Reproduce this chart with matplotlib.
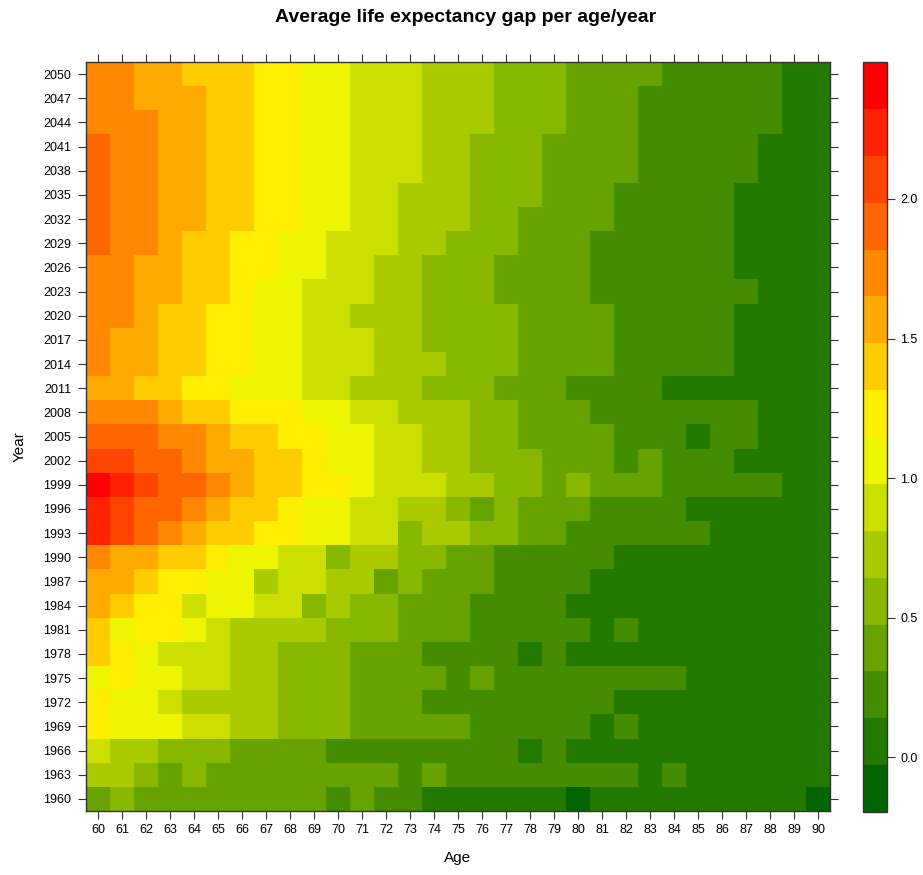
import numpy as np
import matplotlib
matplotlib.use("Agg")
import matplotlib.pyplot as plt
from matplotlib.colors import LinearSegmentedColormap, BoundaryNorm

plt.rcParams['font.family'] = ['Liberation Sans', 'DejaVu Sans']

ages = np.arange(60, 91)
years = np.arange(1960, 2051, 3)

# colour key: 16 equal bins between these limits
key_lo = -0.197
key_hi = 2.491
key_ticks = [0.0, 0.5, 1.0, 1.5, 2.0]

# bin for every cell (0 = darkest green ... 15 = red)
# rows from 2050 (top) down to 1960 (bottom), columns age 60 ... 90
bins = [
    [11, 11, 10, 10, 9, 9, 9, 8, 8, 7, 7, 6, 6, 6, 5, 5, 5, 4, 4, 4, 3, 3, 3, 3, 2, 2, 2, 2, 2, 1, 1],  # 2050
    [11, 11, 10, 10, 10, 9, 9, 8, 8, 7, 7, 6, 6, 6, 5, 5, 5, 4, 4, 4, 3, 3, 3, 2, 2, 2, 2, 2, 2, 1, 1],  # 2047
    [11, 11, 11, 10, 10, 9, 9, 8, 8, 7, 7, 6, 6, 6, 5, 5, 5, 4, 4, 4, 3, 3, 3, 2, 2, 2, 2, 2, 2, 1, 1],  # 2044
    [12, 11, 11, 10, 10, 9, 9, 8, 8, 7, 7, 6, 6, 6, 5, 5, 4, 4, 4, 3, 3, 3, 3, 2, 2, 2, 2, 2, 1, 1, 1],  # 2041
    [12, 11, 11, 10, 10, 9, 9, 8, 8, 7, 7, 6, 6, 6, 5, 5, 4, 4, 4, 3, 3, 3, 3, 2, 2, 2, 2, 2, 1, 1, 1],  # 2038
    [12, 11, 11, 10, 10, 9, 9, 8, 8, 7, 7, 6, 6, 5, 5, 5, 4, 4, 4, 3, 3, 3, 2, 2, 2, 2, 2, 1, 1, 1, 1],  # 2035
    [12, 11, 11, 10, 10, 9, 9, 8, 8, 7, 7, 6, 6, 5, 5, 5, 4, 4, 3, 3, 3, 3, 2, 2, 2, 2, 2, 1, 1, 1, 1],  # 2032
    [12, 11, 11, 10, 9, 9, 8, 8, 7, 7, 6, 6, 6, 5, 5, 4, 4, 4, 3, 3, 3, 2, 2, 2, 2, 2, 2, 1, 1, 1, 1],  # 2029
    [11, 11, 10, 10, 9, 9, 8, 8, 7, 7, 6, 6, 5, 5, 4, 4, 4, 3, 3, 3, 3, 2, 2, 2, 2, 2, 2, 1, 1, 1, 1],  # 2026
    [11, 11, 10, 10, 9, 9, 8, 7, 7, 6, 6, 6, 5, 5, 4, 4, 4, 3, 3, 3, 3, 2, 2, 2, 2, 2, 2, 2, 1, 1, 1],  # 2023
    [11, 11, 10, 9, 9, 8, 8, 7, 7, 6, 6, 5, 5, 5, 4, 4, 4, 4, 3, 3, 3, 3, 2, 2, 2, 2, 2, 1, 1, 1, 1],  # 2020
    [11, 10, 10, 9, 9, 8, 8, 7, 7, 6, 6, 6, 5, 5, 4, 4, 4, 4, 3, 3, 3, 3, 2, 2, 2, 2, 2, 1, 1, 1, 1],  # 2017
    [11, 10, 10, 9, 9, 8, 8, 7, 7, 6, 6, 6, 5, 5, 5, 4, 4, 4, 3, 3, 3, 3, 2, 2, 2, 2, 2, 1, 1, 1, 1],  # 2014
    [10, 10, 9, 9, 8, 8, 7, 7, 7, 6, 6, 5, 5, 5, 4, 4, 4, 3, 3, 3, 2, 2, 2, 2, 1, 1, 1, 1, 1, 1, 1],  # 2011
    [11, 11, 11, 10, 9, 9, 8, 8, 8, 7, 7, 6, 6, 5, 5, 5, 4, 4, 3, 3, 3, 2, 2, 2, 2, 2, 2, 2, 1, 1, 1],  # 2008
    [12, 12, 12, 11, 11, 10, 9, 9, 8, 8, 7, 7, 6, 6, 5, 5, 4, 4, 3, 3, 3, 3, 2, 2, 2, 1, 2, 2, 1, 1, 1],  # 2005
    [13, 13, 12, 12, 11, 10, 10, 9, 9, 8, 7, 7, 6, 6, 5, 5, 4, 4, 4, 3, 3, 3, 2, 3, 2, 2, 2, 1, 1, 1, 1],  # 2002
    [15, 14, 13, 12, 12, 11, 10, 9, 9, 8, 8, 7, 6, 6, 6, 5, 5, 4, 4, 3, 4, 3, 3, 3, 2, 2, 2, 2, 2, 1, 1],  # 1999
    [14, 13, 12, 12, 11, 10, 9, 9, 8, 7, 7, 6, 6, 5, 5, 4, 3, 4, 3, 3, 3, 2, 2, 2, 2, 1, 1, 1, 1, 1, 1],  # 1996
    [14, 13, 12, 11, 10, 9, 9, 8, 8, 7, 7, 6, 6, 4, 5, 5, 4, 4, 3, 3, 2, 2, 2, 2, 2, 2, 1, 1, 1, 1, 1],  # 1993
    [11, 10, 10, 9, 9, 8, 7, 7, 6, 6, 4, 5, 5, 4, 4, 3, 3, 2, 2, 2, 2, 2, 1, 1, 1, 1, 1, 1, 1, 1, 1],  # 1990
    [10, 10, 9, 8, 8, 7, 7, 5, 6, 6, 5, 5, 3, 4, 3, 3, 3, 2, 2, 2, 2, 1, 1, 1, 1, 1, 1, 1, 1, 1, 1],  # 1987
    [10, 9, 8, 8, 6, 7, 7, 6, 6, 4, 5, 4, 4, 3, 3, 3, 2, 2, 2, 2, 1, 1, 1, 1, 1, 1, 1, 1, 1, 1, 1],  # 1984
    [9, 7, 8, 8, 7, 6, 5, 5, 5, 5, 4, 4, 4, 3, 3, 3, 2, 2, 2, 2, 2, 1, 2, 1, 1, 1, 1, 1, 1, 1, 1],  # 1981
    [9, 8, 7, 6, 6, 6, 5, 5, 4, 4, 4, 3, 3, 3, 2, 2, 2, 2, 1, 2, 1, 1, 1, 1, 1, 1, 1, 1, 1, 1, 1],  # 1978
    [7, 8, 7, 7, 6, 6, 5, 5, 4, 4, 4, 3, 3, 3, 3, 2, 3, 2, 2, 2, 2, 2, 2, 2, 2, 1, 1, 1, 1, 1, 1],  # 1975
    [8, 7, 7, 6, 5, 5, 5, 5, 4, 4, 4, 3, 3, 3, 2, 2, 2, 2, 2, 2, 2, 2, 1, 1, 1, 1, 1, 1, 1, 1, 1],  # 1972
    [8, 7, 7, 7, 6, 6, 5, 5, 4, 4, 4, 3, 3, 3, 3, 3, 2, 2, 2, 2, 2, 1, 2, 1, 1, 1, 1, 1, 1, 1, 1],  # 1969
    [6, 5, 5, 4, 4, 4, 3, 3, 3, 3, 2, 2, 2, 2, 2, 2, 2, 2, 1, 2, 1, 1, 1, 1, 1, 1, 1, 1, 1, 1, 1],  # 1966
    [5, 5, 4, 3, 4, 3, 3, 3, 3, 3, 3, 3, 3, 2, 3, 2, 2, 2, 2, 2, 2, 2, 2, 1, 2, 1, 1, 1, 1, 1, 1],  # 1963
    [3, 4, 3, 3, 3, 3, 3, 3, 3, 3, 2, 3, 2, 2, 1, 1, 1, 1, 1, 1, 0, 1, 1, 1, 1, 1, 1, 1, 1, 1, 0],  # 1960
]

nlev = 16
edges = np.linspace(key_lo, key_hi, nlev + 1)
mids = (edges[:-1] + edges[1:]) / 2
gap = mids[np.array(bins)[::-1]]  # rows now 1960 ... 2050

cmap = LinearSegmentedColormap.from_list("gap", ["#006400", "#FFFF00", "#FF0000"], N=nlev)
norm = BoundaryNorm(edges, nlev)

fig = plt.figure(figsize=(9.23, 8.75), dpi=100)
W, H = 923.0, 875.0
ax = fig.add_axes([86 / W, 1 - 811 / H, 744 / W, 749 / H])
cax = fig.add_axes([863 / W, 1 - 812 / H, 24 / W, 750 / H])

mesh = ax.pcolormesh(ages, years, gap, cmap=cmap, norm=norm, shading="nearest")
ax.set_xlim(59.5, 90.5)
ax.set_ylim(1958.5, 2051.5)
ax.set_xticks(ages)
ax.set_yticks(years)
ax.tick_params(axis="both", direction="out", length=5.5, width=0.8, color="#333333",
               labelsize=9, top=True, right=True, labeltop=False, labelright=False)
ax.tick_params(axis="x", pad=4)
ax.tick_params(axis="y", pad=5)
for s in ax.spines.values():
    s.set_linewidth(1.0)
    s.set_color("#333333")

cb = fig.colorbar(mesh, cax=cax, ticks=key_ticks, format="%.1f")
cb.minorticks_off()
cb.outline.set_linewidth(1.0)
cb.outline.set_edgecolor("#333333")
cax.tick_params(direction="out", length=5.5, width=0.8, color="#333333", labelsize=9, pad=4)

fig.text(466 / W, 1 - 17 / H, "Average life expectancy gap per age/year",
         ha="center", va="center", fontsize=14, fontweight="bold")
fig.text(458 / W, 1 - 858 / H, "Age", ha="center", va="center", fontsize=11)
fig.text(20 / W, 1 - 447 / H, "Year", ha="center", va="center", fontsize=11, rotation=90)

fig.savefig("out.png", dpi=100)
